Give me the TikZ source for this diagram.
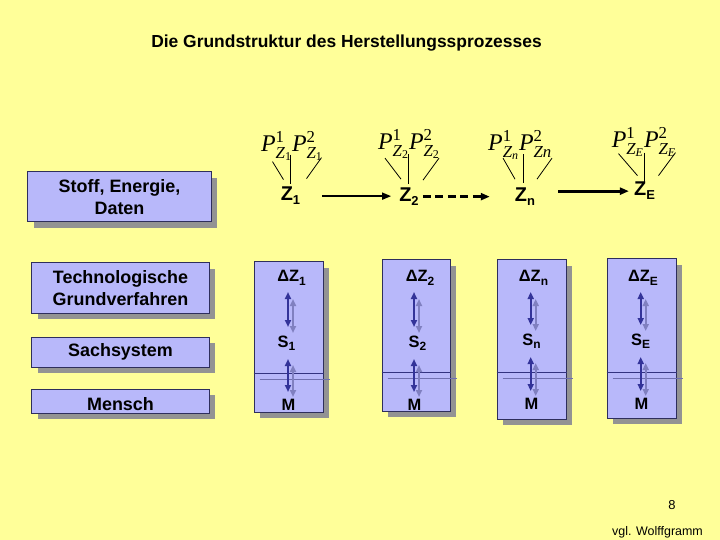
\documentclass[tikz,border=0pt]{standalone}
\usepackage{fontspec}
\usepackage{amsmath}
\setmainfont{Liberation Sans}
\newfontfamily\tms{Liberation Serif}
\usetikzlibrary{shadows,calc,arrows.meta}
\definecolor{bgyellow}{HTML}{FFFF99}
\definecolor{boxfill}{HTML}{B8B8FA}
\definecolor{boxborder}{HTML}{2E2E5C}
\definecolor{shadowgray}{HTML}{939393}
\definecolor{arrdark}{HTML}{333399}
\definecolor{arrlight}{HTML}{8080C0}
\definecolor{cSepDark}{HTML}{333380}
\definecolor{cSepLight}{HTML}{7070B0}
\newcommand\csub[1]{\raisebox{-3.5bp}{\fontsize{12}{12}\selectfont #1}}
\newcommand\zsub[1]{\raisebox{-4bp}{\fontsize{13}{13}\selectfont #1}}
\newcommand\ti[1]{\text{\tms\itshape #1}}
\newcommand\tr[1]{\text{\tms\upshape #1}}
\begin{document}
\begin{tikzpicture}[x=1bp,y=-1bp,
 shadowed/.style={drop shadow={shadow xshift=6bp,shadow yshift=-6bp,fill=shadowgray,opacity=1}},
 lbox/.style={shadowed, draw=boxborder, fill=boxfill, line width=1bp, inner sep=0pt, align=center, font=\fontsize{18}{22}\selectfont\bfseries},
 colbox/.style={shadowed, draw=boxborder, fill=boxfill, line width=1bp, inner sep=0pt, minimum width=69bp},
 collab/.style={inner sep=0pt, anchor=base, font=\fontsize{16.5}{19}\selectfont\bfseries},
 zlab/.style={inner sep=0pt, anchor=base, font=\fontsize{20}{24}\selectfont\bfseries},
 plab/.style={inner sep=0pt, anchor=base, font=\fontsize{24}{28}\selectfont},
 pline/.style={draw=black, line width=0.8bp},
 darr/.style={draw=arrdark, line width=2bp, {Triangle[length=7bp,width=6bp]}-{Triangle[length=7bp,width=6bp]}},
 larr/.style={darr, draw=arrlight},
 sepdark/.style={draw=cSepDark, line width=1bp},
 seplight/.style={draw=cSepLight, line width=0.8bp},
 tarr/.style={draw=black, -{Triangle[length=9bp,width=7bp]}},
]
\useasboundingbox (0,0) rectangle (720,540);
\fill[bgyellow] (0,0) rectangle (720,540);

% title
\node[inner sep=0pt, anchor=base, font=\fontsize{17.5}{21}\selectfont\bfseries] (title) at (346.5,48) {Die Grundstruktur des Herstellungssprozesses};

% left boxes
\node[lbox, minimum width=183bp, minimum height=50bp] (stoff) at (119.5,197) {Stoff, Energie,\\Daten};
\node[lbox, minimum width=177bp, minimum height=50bp] (tech) at (120.5,288) {Technologische\\Grundverfahren};
\node[lbox, minimum width=177bp, minimum height=30bp] (sach) at (120.5,352) {Sachsystem};
\node[lbox, minimum width=177bp, minimum height=24bp] (mensch) at (120.5,401) {\raisebox{-3bp}[\height][\depth]{Mensch}};

% columns
\node[colbox, minimum height=150bp] (col1) at (288.5,337) {};
\node[colbox, minimum height=151bp, minimum width=68bp] (col2) at (416,335.5) {};
\node[colbox, minimum height=159bp] (col3) at (531.5,339.5) {};
\node[colbox, minimum height=159bp] (col4) at (641.5,338.5) {};

\draw[seplight] ($(col1.north west)+(6,118)$) -- ($(col1.north east)+(6,118)$);
\draw[sepdark] ($(col1.north west)+(0,112)$) -- ($(col1.north east)+(0,112)$);
\draw[seplight] ($(col2.north west)+(6,119)$) -- ($(col2.north east)+(6,119)$);
\draw[sepdark] ($(col2.north west)+(0,113)$) -- ($(col2.north east)+(0,113)$);
\draw[seplight] ($(col3.north west)+(6,119)$) -- ($(col3.north east)+(6,119)$);
\draw[sepdark] ($(col3.north west)+(0,113)$) -- ($(col3.north east)+(0,113)$);
\draw[seplight] ($(col4.north west)+(6,120)$) -- ($(col4.north east)+(6,120)$);
\draw[sepdark] ($(col4.north west)+(0,114)$) -- ($(col4.north east)+(0,114)$);

% column labels
\node[collab] (dz1) at (291.5,282) {ΔZ\csub{1}};
\node[collab] (s1) at (286.5,347) {S\csub{1}};
\node[collab] (m1) at (288.5,410) {M};
\node[collab] (dz2) at (420,282) {ΔZ\csub{2}};
\node[collab] (s2) at (417.5,347) {S\csub{2}};
\node[collab] (m2) at (414.5,410) {M};
\node[collab] (dz3) at (533.5,282) {ΔZ\csub{n}};
\node[collab] (s3) at (531.5,345) {S\csub{n}};
\node[collab] (m3) at (531.5,409) {M};
\node[collab] (dz4) at (643,282) {ΔZ\csub{E}};
\node[collab] (s4) at (640.5,345) {S\csub{E}};
\node[collab] (m4) at (641.5,409) {M};

\coordinate (ax1) at (288,0);
\coordinate (ax2) at (414,0);
\coordinate (ax3) at (530.7,0);
\coordinate (ax4) at (640.7,0);
\foreach \k in {1,2,3,4}{
  \draw[larr] ($(ax\k |- dz\k.base)+(5,17)$) -- ($(ax\k |- s\k.base)+(5,-14)$);
  \draw[darr] ($(ax\k |- dz\k.base)+(0,10)$) -- ($(ax\k |- s\k.base)+(0,-20)$);
  \draw[larr] ($(ax\k |- s\k.base)+(5,18)$) -- ($(ax\k |- m\k.base)+(5,-13)$);
  \draw[darr] ($(ax\k |- s\k.base)+(0,12)$) -- ($(ax\k |- m\k.base)+(0,-18)$);
}

% top row
\node[zlab] (z1) at (290.5,201) {Z\zsub{1}};
\node[zlab] (z2) at (409,201.5) {Z\zsub{2}};
\node[zlab] (zn) at (525,201.5) {Z\zsub{n}};
\node[zlab] (zE) at (644.5,196) {Z\zsub{E}};

\draw[tarr, line width=1.6bp, shorten <=22bp, shorten >=8bp] (z1.east) -- (z1.east -| z2.west);
\draw[tarr, line width=3bp, dash pattern=on 8bp off 4.5bp, shorten <=4bp, shorten >=25bp] (z2.east) -- (z2.east -| zn.west);
\draw[tarr, line width=3bp, shorten <=23bp, shorten >=5bp] (zE.west -| zn.east) -- (zE.west);

% P labels
\node[plab] (p1) at (292,152) {$\ti{P}^{\tr{1}}_{\ti{Z}_{\tr{1}}}\ti{P}^{\tr{2}}_{\ti{Z}_{\tr{1}}}$};
\node[plab] (p2) at (409,150) {$\ti{P}^{\tr{1}}_{\ti{Z}_{\tr{2}}}\ti{P}^{\tr{2}}_{\ti{Z}_{\tr{2}}}$};
\node[plab] (p3) at (520,151) {$\ti{P}^{\tr{1}}_{\ti{Z}_{\ti{n}}}\ti{P}^{\tr{2}}_{\ti{Zn}}$};
\node[plab] (p4) at (644,148) {$\ti{P}^{\tr{1}}_{\ti{Z}_{\ti{E}}}\ti{P}^{\tr{2}}_{\ti{Z}_{\ti{E}}}$};

\draw[pline] ($(z1.center)+(-18,-34.5)$) -- ($(z1.center)+(-7,-16.5)$);
\draw[pline] ($(z1.center)+(0,-41.5)$) -- ($(z1.center)+(0,-12.5)$);
\draw[pline] ($(z1.center)+(31,-38.5)$) -- ($(z1.center)+(16,-17.5)$);
\draw[pline] ($(z2.center)+(-24,-38.5)$) -- ($(z2.center)+(-8,-17.5)$);
\draw[pline] ($(z2.center)+(-1,-42.5)$) -- ($(z2.center)+(-1,-12.5)$);
\draw[pline] ($(z2.center)+(30,-38.5)$) -- ($(z2.center)+(14,-16.5)$);
\draw[pline] ($(zn.center)+(-22,-38.5)$) -- ($(zn.center)+(-10,-17.5)$);
\draw[pline] ($(zn.center)+(-2,-42.5)$) -- ($(zn.center)+(-2,-13.5)$);
\draw[pline] ($(zn.center)+(27,-38.5)$) -- ($(zn.center)+(12,-17.5)$);
\draw[pline] ($(zE.center)+(-26,-37.5)$) -- ($(zE.center)+(-7,-15.5)$);
\draw[pline] ($(zE.center)+(0,-38.5)$) -- ($(zE.center)+(0,-8.5)$);
\draw[pline] ($(zE.center)+(31,-38.5)$) -- ($(zE.center)+(14,-15.5)$);

% footer
\node[inner sep=0pt, anchor=base, font=\fontsize{13}{15}\selectfont] (pg) at (672,509) {8};
\node[inner sep=0pt, anchor=base, font=\fontsize{12.5}{15}\selectfont] (ref) at (657.5,535) {vgl. Wolffgramm};
\end{tikzpicture}
\end{document}
